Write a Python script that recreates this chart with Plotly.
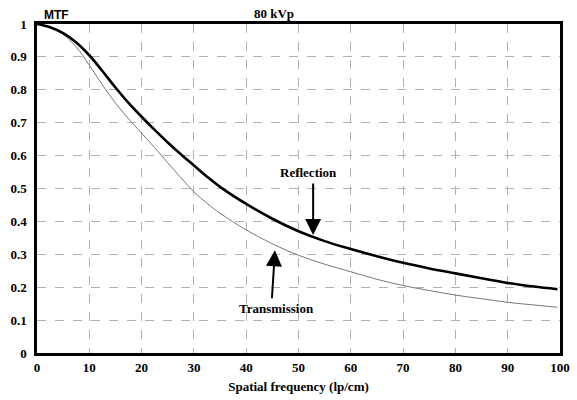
import plotly.graph_objects as go

freq = [0, 2.5, 5, 7.5, 10, 12.5, 15, 17.5, 20, 22.5, 25, 27.5, 30, 32.5, 35, 40, 45, 50, 55, 60, 65, 70, 75, 80, 85, 90, 95, 99.5]
reflection = [1.0, 0.99, 0.972, 0.944, 0.905, 0.857, 0.807, 0.76, 0.718, 0.678, 0.64, 0.604, 0.57, 0.536, 0.505, 0.453, 0.408, 0.37, 0.34, 0.316, 0.294, 0.274, 0.257, 0.242, 0.227, 0.213, 0.202, 0.194]
transmission = [1.0, 0.99, 0.968, 0.93, 0.875, 0.815, 0.76, 0.712, 0.668, 0.624, 0.578, 0.533, 0.49, 0.455, 0.425, 0.374, 0.332, 0.297, 0.27, 0.247, 0.224, 0.205, 0.19, 0.176, 0.165, 0.154, 0.146, 0.139]

x_ticks = list(range(0, 101, 10))
y_ticks = [0, 0.1, 0.2, 0.3, 0.4, 0.5, 0.6, 0.7, 0.8, 0.9, 1]
y_tick_text = ["0", "0.1", "0.2", "0.3", "0.4", "0.5", "0.6", "0.7", "0.8", "0.9", "1"]

# annotation anchors (data units)
refl_label = ("Reflection", 52.0, 0.55)
refl_arrow = (52.8, 0.52, 52.8, 0.359)   # tail x, tail y, head x, head y
trans_label = ("Transmission", 45.7, 0.134)
trans_arrow = (44.9, 0.162, 45.5, 0.312)

serif = "Liberation Serif"
bold = dict(family=serif, size=13, color="black", weight="bold")

fig = go.Figure()
fig.add_trace(go.Scatter(x=freq, y=transmission, mode="lines",
                         line=dict(color="#777777", width=1, shape="spline"), showlegend=False))
fig.add_trace(go.Scatter(x=freq, y=reflection, mode="lines",
                         line=dict(color="black", width=2.6, shape="spline"), showlegend=False))

axis_common = dict(showline=True, linecolor="black", linewidth=2.5, mirror=True,
                   showgrid=True, gridcolor="#b0b0b0", gridwidth=1, griddash="dash",
                   zeroline=False, ticks="", automargin=False, tickfont=bold)

fig.update_xaxes(range=[0, 100], tickvals=x_ticks, ticklabelstandoff=1,
                 title=dict(text="Spatial frequency (lp/cm)", font=bold, standoff=8),
                 **axis_common)
fig.update_yaxes(range=[0, 1], tickvals=y_ticks, ticktext=y_tick_text, ticklabelstandoff=5, **axis_common)

for (t, x, y) in [refl_label, trans_label]:
    fig.add_annotation(x=x, y=y, xref="x", yref="y", text=t, showarrow=False, font=bold)
for (tx, ty, hx, hy) in [refl_arrow, trans_arrow]:
    fig.add_annotation(x=hx, y=hy, ax=tx, ay=ty, xref="x", yref="y", axref="x", ayref="y",
                       text="", showarrow=True, arrowhead=2, arrowsize=1.6, arrowwidth=2,
                       arrowcolor="black", standoff=0)
fig.add_annotation(x=0.9, y=1.0, xref="x", yref="paper", yanchor="bottom", xanchor="left", text="MTF",
                   showarrow=False, font=dict(family="Liberation Sans", size=12, color="black", weight="bold"))
fig.add_annotation(x=45.3, y=1.0, xref="x", yref="paper", yanchor="bottom", text="80 kVp", showarrow=False,
                   font=bold, yshift=1)

fig.update_layout(width=577, height=400, margin=dict(l=37, r=17, t=24, b=47),
                  plot_bgcolor="white", paper_bgcolor="white")
fig.write_html("out.html")
